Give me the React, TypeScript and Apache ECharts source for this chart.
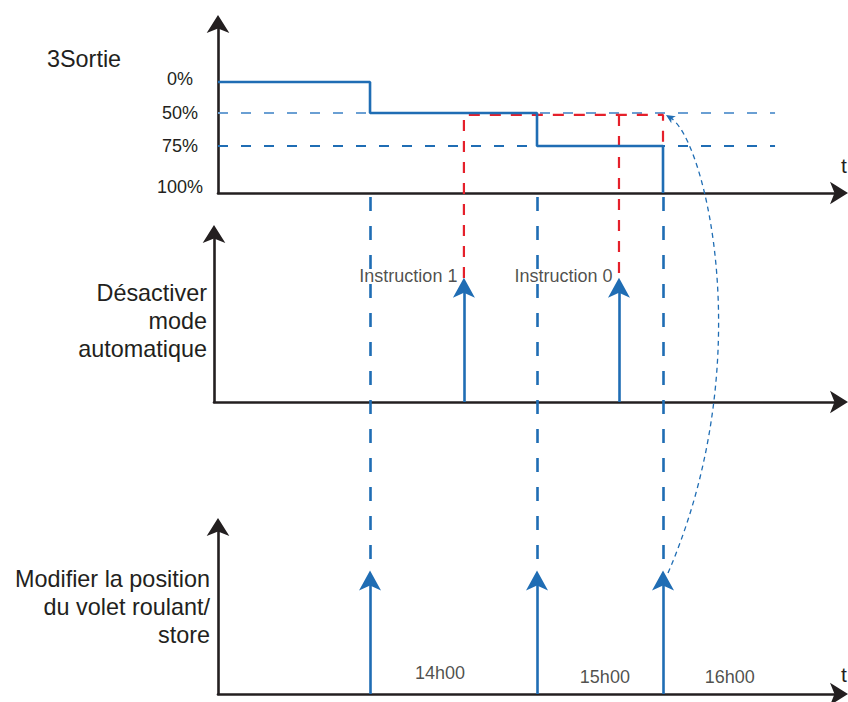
import React, { useEffect, useRef } from 'react';
import * as echarts from 'echarts';

// ---- data (time in arbitrary diagram units 0..100, heights per panel 0..100) ----
const levelLabels = ['0%', '50%', '75%', '100%'];
const levelHeights = [65.7, 47.3, 27.8, 0];
const signalTimes = [0, 24.48, 51.37, 71.66];
const signalLevelIdx = [0, 1, 2, 3];
const positionEventTimes = [24.48, 51.37, 71.66];
const instructionTimes = [39.6, 64.57];
const instructionNames = ['Instruction 1', 'Instruction 0'];
const instructionTarget = 46.2; // red target path, just under the 50% line
const pulseHeight = 74;
const hourLabels = ['14h00', '15h00', '16h00'];
const hourLabelTimes = [35.75, 62.3, 82.4];
const hourLabelHeights = [12.5, 10.2, 10.2];
const guideEnd = 89.7;
const linkToBottomArrows = -223; // bottom-panel arrow tips, in top-panel units
const linkToMiddleArrows = -50.3; // middle-panel arrow tips, in top-panel units
const feedbackCurve = [
  [72.46, -224.9],
  [87.28, -98.8],
  [78.42, 31.4],
  [72.14, 46.2],
];

const BLUE = '#1f6db4';
const LIGHT = '#6a9fd3';
const RED = '#e5202b';
const INK = '#231f20';
const FONT = "'Liberation Sans', Arial, Helvetica, sans-serif";

export default function App() {
  const ref = useRef<HTMLDivElement>(null);

  useEffect(() => {
    if (!ref.current) return;
    const chart = echarts.init(ref.current, null, { renderer: 'svg' });

    const axisLine = {
      show: true,
      onZero: false,
      symbol: ['none', 'arrow'],
      symbolSize: [17, 18],
      symbolOffset: [0, 9],
      lineStyle: { color: INK, width: 2.6 },
    };
    const hidden = {
      axisTick: { show: false },
      splitLine: { show: false },
    };

    const xAxes = [0, 1, 2].map((i) => ({
      type: 'value',
      gridIndex: i,
      min: i === 1 ? -0.644 : 0,
      max: 100,
      axisLine,
      axisLabel: { show: false },
      ...hidden,
    }));

    const yAxes: any[] = [0, 1, 2].map((i) => ({
      type: 'value',
      gridIndex: i,
      min: 0,
      max: 100,
      axisLine,
      axisLabel: { show: false },
      ...hidden,
    }));
    yAxes[0].axisLabel = {
      show: true,
      customValues: levelHeights,
      margin: 38,
      align: 'center',
      fontSize: 18,
      fontFamily: FONT,
      color: INK,
      formatter: (v: number) => {
        const i = levelHeights.findIndex((h) => Math.abs(h - v) < 1e-6);
        if (i < 0) return '';
        const lab = levelLabels[i];
        if (lab === '0%') return '{u3|' + lab + '}';
        if (lab === '100%') return '{u6|' + lab + '}';
        return lab;
      },
      rich: {
        u3: { fontSize: 18, fontFamily: FONT, color: INK, padding: [0, 0, 6, 0] },
        u6: { fontSize: 18, fontFamily: FONT, color: INK, padding: [0, 0, 12, 0] },
      },
    };

    const signalData = signalTimes.map((t, i) => [t, levelHeights[signalLevelIdx[i]]]);

    const textStyle = (extra: any) => ({ fontSize: 23.4, fontFamily: FONT, fill: INK, ...extra });

    const option: any = {
      animation: false,
      backgroundColor: '#ffffff',
      grid: [
        { left: 218, right: 9, top: 24, height: 169 },
        { left: 214, right: 9, top: 234, height: 168 },
        { left: 218, right: 9, top: 527, height: 167 },
      ],
      xAxis: xAxes,
      yAxis: yAxes,
      graphic: [
        {
          type: 'text',
          x: 47,
          y: 59,
          style: textStyle({ text: '3Sortie', align: 'left', verticalAlign: 'middle', textAlign: 'left', textVerticalAlign: 'middle' }),
        },
        {
          type: 'text',
          x: 207,
          y: 321,
          style: textStyle({ text: 'Désactiver\nmode\nautomatique', lineHeight: 28, align: 'right', verticalAlign: 'middle', textAlign: 'right', textVerticalAlign: 'middle' }),
        },
        {
          type: 'text',
          x: 210,
          y: 607,
          style: textStyle({ text: 'Modifier la position\ndu volet roulant/\nstore', lineHeight: 28, align: 'right', verticalAlign: 'middle', textAlign: 'right', textVerticalAlign: 'middle' }),
        },
        {
          type: 'text',
          x: 841,
          y: 165,
          style: textStyle({ text: 't', fontSize: 21, align: 'left', verticalAlign: 'middle', textAlign: 'left', textVerticalAlign: 'middle' }),
        },
        {
          type: 'text',
          x: 841,
          y: 674,
          style: textStyle({ text: 't', fontSize: 21, align: 'left', verticalAlign: 'middle', textAlign: 'left', textVerticalAlign: 'middle' }),
        },
      ],
      series: [
        // horizontal level guides
        {
          type: 'lines',
          coordinateSystem: 'cartesian2d',
          xAxisIndex: 0,
          yAxisIndex: 0,
          clip: false,
          silent: true,
          lineStyle: { width: 2, type: [10, 13], opacity: 1 },
          data: [
            { coords: [[0, levelHeights[1]], [guideEnd, levelHeights[1]]], lineStyle: { color: LIGHT } },
            { coords: [[0, levelHeights[2]], [guideEnd, levelHeights[2]]], lineStyle: { color: BLUE } },
          ],
        },
        // red instruction target path
        {
          type: 'line',
          xAxisIndex: 0,
          yAxisIndex: 0,
          clip: false,
          silent: true,
          symbol: 'none',
          lineStyle: { color: RED, width: 2.2, type: [11, 10] },
          data: [
            [instructionTimes[0], linkToMiddleArrows],
            [instructionTimes[0], instructionTarget],
            [positionEventTimes[2], instructionTarget],
            [positionEventTimes[2], levelHeights[2]],
          ],
        },
        {
          type: 'line',
          xAxisIndex: 0,
          yAxisIndex: 0,
          clip: false,
          silent: true,
          symbol: 'none',
          lineStyle: { color: RED, width: 2.2, type: [11, 10] },
          data: [
            [instructionTimes[1], instructionTarget],
            [instructionTimes[1], linkToMiddleArrows],
          ],
        },
        // blue dashed event links (top axis -> bottom arrows)
        {
          type: 'lines',
          coordinateSystem: 'cartesian2d',
          xAxisIndex: 0,
          yAxisIndex: 0,
          clip: false,
          silent: true,
          lineStyle: { color: BLUE, width: 2.6, type: [14, 15], opacity: 1 },
          data: positionEventTimes.map((t) => ({ coords: [[t, -2.4], [t, linkToBottomArrows]] })),
        },
        // output signal
        {
          type: 'line',
          xAxisIndex: 0,
          yAxisIndex: 0,
          step: 'end',
          clip: false,
          silent: true,
          symbol: 'none',
          lineStyle: { color: BLUE, width: 2.6 },
          data: signalData,
        },
        // middle panel pulses
        {
          type: 'lines',
          coordinateSystem: 'cartesian2d',
          xAxisIndex: 1,
          yAxisIndex: 1,
          clip: false,
          silent: true,
          lineStyle: { color: BLUE, width: 2.6, opacity: 1 },
          data: instructionTimes.map((t) => ({ coords: [[t, 0], [t, pulseHeight - 3]] })),
        },
        {
          type: 'scatter',
          xAxisIndex: 1,
          yAxisIndex: 1,
          clip: false,
          silent: true,
          symbol: 'arrow',
          symbolSize: [16.5, 20],
          itemStyle: { color: BLUE, opacity: 1 },
          data: instructionTimes.map((t) => [t, pulseHeight]),
        },
        {
          type: 'scatter',
          xAxisIndex: 1,
          yAxisIndex: 1,
          clip: false,
          silent: true,
          symbolSize: 1,
          itemStyle: { color: 'rgba(0,0,0,0)' },
          label: {
            show: true,
            position: 'left',
            distance: 6,
            fontSize: 18,
            fontFamily: FONT,
            color: INK,
            formatter: (p: any) => instructionNames[p.dataIndex],
          },
          data: instructionTimes.map((t) => [t, pulseHeight + 1.2]),
        },
        // bottom panel pulses
        {
          type: 'lines',
          coordinateSystem: 'cartesian2d',
          xAxisIndex: 2,
          yAxisIndex: 2,
          clip: false,
          silent: true,
          lineStyle: { color: BLUE, width: 2.6, opacity: 1 },
          data: positionEventTimes.map((t) => ({ coords: [[t, 0], [t, pulseHeight - 3]] })),
        },
        {
          type: 'scatter',
          xAxisIndex: 2,
          yAxisIndex: 2,
          clip: false,
          silent: true,
          symbol: 'arrow',
          symbolSize: [16.5, 20],
          itemStyle: { color: BLUE, opacity: 1 },
          data: positionEventTimes.map((t) => [t, pulseHeight]),
        },
        // hour labels
        {
          type: 'scatter',
          xAxisIndex: 2,
          yAxisIndex: 2,
          clip: false,
          silent: true,
          symbolSize: 1,
          itemStyle: { color: 'rgba(0,0,0,0)' },
          label: {
            show: true,
            position: 'inside',
            fontSize: 18,
            fontFamily: FONT,
            color: INK,
            formatter: (p: any) => hourLabels[p.dataIndex],
          },
          data: hourLabelTimes.map((t, i) => [t, hourLabelHeights[i]]),
        },
        // feedback curve (bottom arrow -> top 50%)
        {
          type: 'custom',
          xAxisIndex: 0,
          yAxisIndex: 0,
          clip: false,
          silent: true,
          data: [feedbackCurve.flat()],
          renderItem: (_params: any, api: any) => {
            const pts = [0, 1, 2, 3].map((i) => api.coord([api.value(2 * i), api.value(2 * i + 1)]));
            const [p0, c1, c2, p3] = pts;
            const dx = p3[0] - c2[0];
            const dy = p3[1] - c2[1];
            const len = Math.hypot(dx, dy) || 1;
            const ux = dx / len;
            const uy = dy / len;
            const nx = -uy;
            const ny = ux;
            const L = 9;
            const W = 4.2;
            return {
              type: 'group',
              children: [
                {
                  type: 'bezierCurve',
                  shape: { x1: p0[0], y1: p0[1], cpx1: c1[0], cpy1: c1[1], cpx2: c2[0], cpy2: c2[1], x2: p3[0] - ux * 6, y2: p3[1] - uy * 6 },
                  style: { stroke: BLUE, fill: null, lineWidth: 1.3, lineDash: [5, 4] },
                },
                {
                  type: 'polygon',
                  shape: {
                    points: [
                      [p3[0], p3[1]],
                      [p3[0] - ux * L + nx * W, p3[1] - uy * L + ny * W],
                      [p3[0] - ux * L * 0.72, p3[1] - uy * L * 0.72],
                      [p3[0] - ux * L - nx * W, p3[1] - uy * L - ny * W],
                    ],
                  },
                  style: { fill: BLUE, stroke: null },
                },
              ],
            };
          },
        },
      ],
    };

    chart.setOption(option);
    return () => chart.dispose();
  }, []);

  return (
    <div
      ref={ref}
      style={{ position: 'absolute', left: 0, top: 0, width: 848, height: 702, background: '#fff' }}
    />
  );
}
